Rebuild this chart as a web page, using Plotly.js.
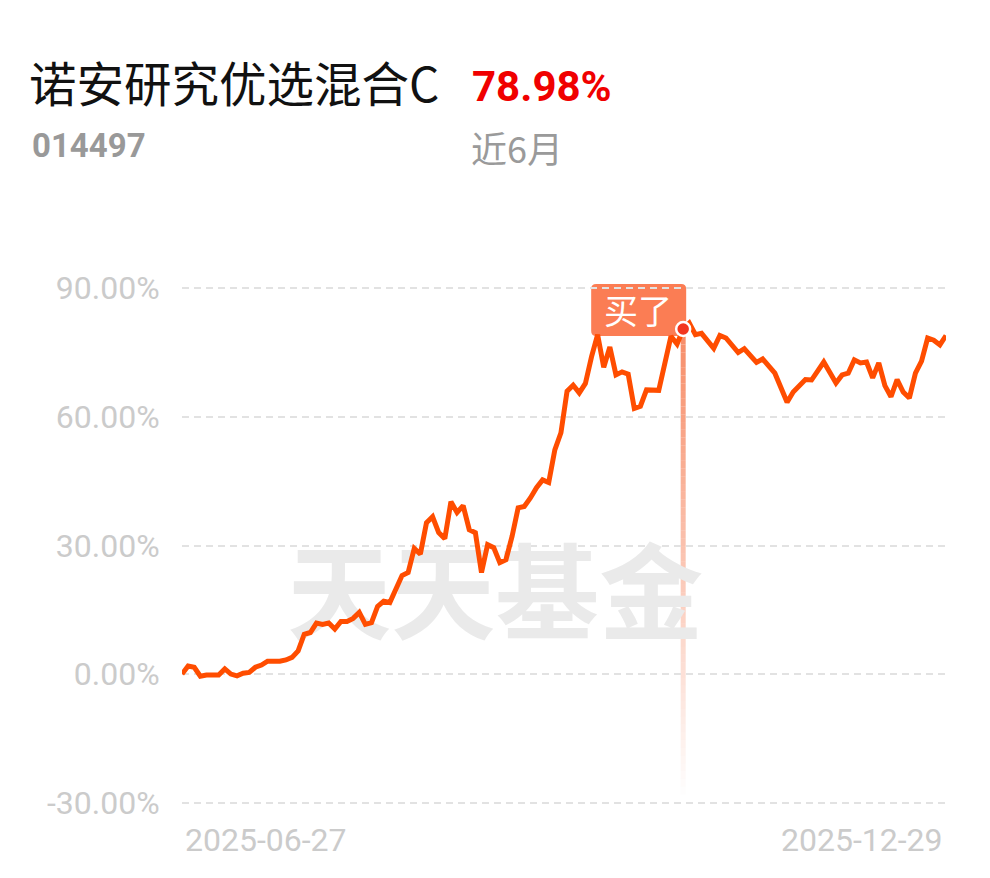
<!DOCTYPE html>
<html><head><meta charset="utf-8">
<script src="https://cdn.plot.ly/plotly-3.0.1.min.js"></script>
<style>html,body{margin:0;padding:0;background:#fff;}#chart{width:990px;height:878px;}</style>
</head><body><div id="chart"></div>
<script>
// ---------- data ----------
const fundName = '诺安研究优选混合C';
const fundCode = '014497';
const periodLabel = '近6月';
const tradeDay = [0,1,2,3,4,6,7,8,9,10,11,12,13,14,16,17,18,19,20,21,22,23,24,25,26,27,28,29,30,31,32,33,34,35,36,37,38,39,40,41,42,43,44,45,46,47,48,49,50,51,52,53,54,55,56,57,58,59,60,61,62,63,64,65,66,67,68,69,70,71,72,73,74,75,76,78,79,80,81,82,83,84,85,87,88,89,91,92,94,95,97,99,100,102,103,105,107,108,109,110,111,112,113,114,115,116,117,118,119,120,121,122,123,124,125];
const cumReturn = [0,1.9,1.6,-0.5,-0.2,-0.2,1.2,0,-0.4,0.2,0.4,1.6,2.1,3.0,3.0,3.3,3.9,5.4,9.3,9.7,11.9,11.6,11.9,10.5,12.3,12.3,13.0,14.4,11.6,12.0,15.8,17.0,16.7,20.2,23.0,23.7,29.3,28.0,35.3,36.7,33.0,31.6,40.2,37.7,39.3,33.7,33.0,23.7,30.2,29.5,26.0,26.7,32.1,38.8,39.1,41.1,43.5,45.3,44.7,52.3,56.3,66.0,67.4,65.6,67.8,74.0,79.2,71.6,76.3,69.8,70.5,70.0,62.0,62.5,66.3,66.2,73.0,78.8,77.0,80.5,81.9,79.2,79.5,76.0,79.0,78.4,75.0,75.9,72.7,73.5,70.2,63.4,65.8,68.7,68.6,72.8,67.9,69.8,70.2,73.3,72.6,72.8,69.1,72.6,67.3,64.7,68.7,65.8,64.4,70.2,73.0,78.4,77.9,76.8,78.98];
const yTickVals = [-30,0,30,60,90];
const yTickText = ['-30.00%','0.00%','30.00%','60.00%','90.00%'];
const dateLabels = ['2025-06-27','2025-12-29'];
const buyDay = 82;
const buyLabel = '买了';
const watermark = '天天基金';

// ---------- layout helpers ----------
const W = 990, H = 878, L = 182, R = 44, T = 284, B = 71;
const PW = W - L - R, PH = H - T - B;
const px = x => (x - L) / PW;
const py = y => (H - B - y) / PH;
const xRange = [tradeDay[0], tradeDay[tradeDay.length - 1]];
const yRange = [-31, 91];
const buyVal = cumReturn[tradeDay.indexOf(buyDay)];
const lastVal = cumReturn[cumReturn.length - 1];

const tickFont = {family: 'Roboto, "Noto Sans", sans-serif', size: 32, color: '#cbcbcb'};

// fading vertical line below the buy point
const shapes = [];
const lineBottom = -28;
const N = 60;
for (let i = 0; i < N; i++) {
  const t0 = i / N, t1 = (i + 1) / N;
  shapes.push({
    type: 'line', layer: 'below', xref: 'x', yref: 'y',
    x0: buyDay, x1: buyDay,
    y0: buyVal + (lineBottom - buyVal) * t0,
    y1: buyVal + (lineBottom - buyVal) * t1,
    line: {color: '#f7865f', width: 5},
    opacity: Math.max(0, 0.95 * (1 - (i + 0.5) / N))
  });
}
// rounded label box anchored to the buy point
shapes.push({
  type: 'path', layer: 'below', xref: 'x', yref: 'y',
  xsizemode: 'pixel', ysizemode: 'pixel', xanchor: buyDay, yanchor: buyVal,
  path: 'M -87,-7 L -2,-7 Q 3,-7 3,-2 L 3,40 Q 3,45 -2,45 L -87,45 Q -92,45 -92,40 L -92,-2 Q -92,-7 -87,-7 Z',
  fillcolor: '#fb7d54', line: {width: 0}
});

const traces = [
  {
    x: [xRange[0] + (xRange[1] - xRange[0]) * 0.41],
    y: [yRange[0] + (yRange[1] - yRange[0]) * 0.385],
    mode: 'text', text: [watermark], hoverinfo: 'skip', showlegend: false,
    textfont: {family: '"Noto Sans CJK SC", sans-serif', size: 104, color: '#eaeaea', weight: 700}
  },
  {
    x: tradeDay, y: cumReturn, mode: 'lines', showlegend: false, cliponaxis: false,
    line: {color: '#ff4d00', width: 5, shape: 'linear'}, hoverinfo: 'skip'
  },
  {
    x: [buyDay], y: [buyVal], mode: 'markers', showlegend: false, cliponaxis: false,
    marker: {size: 14, color: '#f2361f', line: {color: '#ffffff', width: 2.5}}, hoverinfo: 'skip'
  }
];

const layout = {
  width: W, height: H,
  margin: {l: L, r: R, t: T, b: B, pad: 0},
  paper_bgcolor: '#ffffff', plot_bgcolor: '#ffffff',
  title: {
    text: fundName, xref: 'container', yref: 'container',
    x: 29 / W, xanchor: 'left', y: 1 - 85 / H, yanchor: 'middle',
    font: {family: '"Noto Sans CJK SC", sans-serif', size: 47.5, color: '#111111'}
  },
  xaxis: {
    range: xRange, showgrid: false, zeroline: false, showline: false,
    showticklabels: false, ticks: '', fixedrange: true
  },
  yaxis: {
    range: yRange, tickvals: yTickVals, ticktext: yTickText,
    showgrid: true, gridcolor: '#e2e2e2', gridwidth: 2, griddash: '7px,5px',
    zeroline: false, showline: false,
    ticks: 'outside', ticklen: 15, tickcolor: 'rgba(0,0,0,0)',
    tickfont: tickFont, fixedrange: true
  },
  shapes: shapes,
  annotations: [
    {xref: 'paper', yref: 'paper', x: px(470), y: py(86), xanchor: 'left', yanchor: 'middle',
     text: lastVal.toFixed(2) + '%', showarrow: false,
     font: {family: 'Roboto, sans-serif', size: 42, color: '#f00000', weight: 700}},
    {xref: 'paper', yref: 'paper', x: px(30), y: py(146), xanchor: 'left', yanchor: 'middle',
     text: fundCode, showarrow: false,
     font: {family: 'Roboto, sans-serif', size: 33, color: '#999999', weight: 700}},
    {xref: 'paper', yref: 'paper', x: px(469), y: py(147), xanchor: 'left', yanchor: 'middle',
     text: periodLabel, showarrow: false,
     font: {family: '"Noto Sans CJK SC", sans-serif', size: 36, color: '#9a9a9a'}},
    {xref: 'x', yref: 'paper', x: xRange[0], y: py(840), xanchor: 'left', yanchor: 'middle',
     xshift: 1, text: dateLabels[0], showarrow: false, font: tickFont},
    {xref: 'x', yref: 'paper', x: xRange[1], y: py(840), xanchor: 'right', yanchor: 'middle',
     xshift: -1, text: dateLabels[1], showarrow: false, font: tickFont},
    {xref: 'x', yref: 'y', x: buyDay, y: buyVal, xshift: -45, yshift: 20,
     text: buyLabel, showarrow: false,
     font: {family: '"Noto Sans CJK SC", sans-serif', size: 34, color: '#ffffff'}}
  ]
};

Plotly.newPlot('chart', traces, layout, {displayModeBar: false, staticPlot: true});
</script>
</body></html>
